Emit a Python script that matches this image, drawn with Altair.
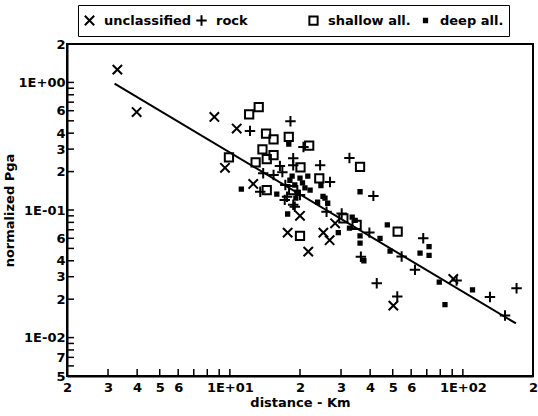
import altair as alt
import pandas as pd

# ---------------- data ----------------
unclassified_x = [3.29, 3.98, 8.58, 10.7, 9.53, 12.6, 20.0, 17.7, 28.3, 25.2, 26.8, 21.7, 50.3, 91.0]
unclassified_y = [1.26, 0.586, 0.536, 0.435, 0.214, 0.16, 0.090, 0.0665, 0.0787, 0.0665, 0.058, 0.0472, 0.0178, 0.0288]

rock_x = [12.2, 18.2, 13.5, 13.9, 16.4, 15.4, 18.7, 17.6, 19.0, 20.7, 18.7, 24.4, 32.6, 26.9, 41.3,
          17.2, 18.7, 26.0, 30.2, 67.6, 39.7, 54.6, 36.5, 62.3, 42.7, 52.3, 94.0, 130.7, 151.7, 170.0,
          16.8, 17.3, 20.0]
rock_y = [0.417, 0.496, 0.139, 0.194, 0.221, 0.188, 0.224, 0.127, 0.106, 0.312, 0.254, 0.224, 0.256, 0.166, 0.129,
          0.12, 0.11, 0.097, 0.094, 0.060, 0.0665, 0.0432, 0.043, 0.034, 0.0267, 0.021, 0.028, 0.0208, 0.0149, 0.0244,
          0.198, 0.157, 0.131]

shallow_x = [12.1, 13.3, 9.91, 14.3, 15.4, 13.8, 15.4, 14.4, 12.9, 17.9, 14.4, 20.0, 21.9, 20.1, 36.2,
             24.2, 30.7, 35.0, 52.5, 18.7]
shallow_y = [0.562, 0.641, 0.258, 0.397, 0.357, 0.298, 0.269, 0.25, 0.236, 0.374, 0.143, 0.0626, 0.32, 0.216, 0.218,
             0.177, 0.086, 0.0764, 0.0677, 0.143]

deep_x = [17.9, 11.2, 15.9, 17.7, 24.6, 36.2, 33.5, 34.5, 32.6, 29.2, 47.4, 36.2, 36.2, 44.1, 48.7,
          37.6, 71.6, 65.5, 71.6, 79.2, 83.8, 110.0, 18.1, 19.0, 20.0, 21.0, 19.4, 25.6, 23.8,
          18.5, 20.5, 21.6, 19.2, 25.1, 26.3, 22.1]
deep_y = [0.328, 0.146, 0.133, 0.093, 0.155, 0.139, 0.088, 0.083, 0.072, 0.0665, 0.0764, 0.0626, 0.055, 0.060, 0.0476,
          0.040, 0.0517, 0.0459, 0.0441, 0.0272, 0.0181, 0.0237, 0.171, 0.157, 0.178, 0.149, 0.138, 0.124, 0.115,
          0.184, 0.163, 0.184, 0.124, 0.128, 0.113, 0.143]

fit_x = [3.2, 169.0]
fit_y = [0.98, 0.0129]

categories = ["unclassified", "rock", "shallow all.", "deep all."]

x_label_values = [2, 3, 4, 5, 6, 10, 20, 30, 40, 50, 60, 100, 200]
y_label_values = [2, 1, 0.6, 0.4, 0.3, 0.2, 0.1, 0.06, 0.04, 0.03, 0.02, 0.01, 0.007, 0.005]
x_tick_values = [2, 3, 4, 5, 6, 7, 8, 9, 10, 20, 30, 40, 50, 60, 70, 80, 90, 100, 200]
y_tick_values = [0.005, 0.006, 0.007, 0.008, 0.009, 0.01, 0.02, 0.03, 0.04, 0.05, 0.06, 0.07, 0.08, 0.09,
                 0.1, 0.2, 0.3, 0.4, 0.5, 0.6, 0.7, 0.8, 0.9, 1, 2]

# ---------------- tables ----------------
rows = []
for name, xs, ys in [("unclassified", unclassified_x, unclassified_y), ("rock", rock_x, rock_y),
                     ("shallow all.", shallow_x, shallow_y), ("deep all.", deep_x, deep_y)]:
    for a, b in zip(xs, ys):
        rows.append({"distance": a, "pga": b, "type": name})
pts = pd.DataFrame(rows)
fit = pd.DataFrame({"distance": fit_x, "pga": fit_y})
xt = pd.DataFrame({"t": x_tick_values})
yt = pd.DataFrame({"t": y_tick_values})

FONT = "DejaVu Sans"
W, H = 466, 332
XMIN, XMAX, YMIN, YMAX = 2, 200, 0.005, 2

xscale = alt.Scale(type="log", domain=[XMIN, XMAX], nice=False)
yscale = alt.Scale(type="log", domain=[YMIN, YMAX], nice=False)

lead = "format(datum.value / pow(10, floor(log(datum.value) / LN10 + 1e-9)), 'd')"
x_expr = ("abs(datum.value - 10) < 1e-6 ? '1E+01' : abs(datum.value - 100) < 1e-6 ? '1E+02' : " + lead)
y_expr = ("abs(datum.value - 1) < 1e-9 ? '1E+00' : abs(datum.value - 0.1) < 1e-9 ? '1E-01' : "
          "abs(datum.value - 0.01) < 1e-9 ? '1E-02' : " + lead)

common_axis = dict(tickSize=0, labelOverlap=False, labelFlush=False, grid=False,
                   domainColor="black", domainWidth=2,
                   labelFont=FONT, labelFontWeight="bold", labelFontSize=13, labelColor="black",
                   titleFont=FONT, titleFontWeight="bold", titleFontSize=13, titleColor="black")
xaxis = alt.Axis(values=x_label_values, labelExpr=x_expr, labelPadding=5,
                 title="distance - Km", titlePadding=2, **common_axis)
yaxis = alt.Axis(values=y_label_values, labelExpr=y_expr, labelPadding=2,
                 title="normalized Pga", titlePadding=2, **common_axis)

# symbol outlines (unit box -1..1, scaled by the size); the small square is closed by a middle stroke
shape_scale = alt.Scale(domain=categories,
                        range=["M-0.85,-0.85L0.85,0.85M-0.85,0.85L0.85,-0.85",
                               "M-0.95,0L0.95,0M0,-0.95L0,0.95",
                               "M-0.75,-0.75H0.75V0.75H-0.75Z",
                               "M-0.3,-0.3H0.3V0.3H-0.3ZM-0.3,0H0.3"])

legend = alt.Legend(title=None, orient="none", legendX=11, legendY=-39, direction="horizontal",
                    columns=4, gridAlign="all", strokeColor="black", padding=5, columnPadding=3,
                    clipHeight=21,
                    labelFont=FONT, labelFontWeight="bold", labelFontSize=13, labelColor="black",
                    symbolStrokeColor="black", symbolStrokeWidth=2, symbolSize=121,
                    symbolFillColor="transparent", symbolOffset=0, labelOffset=8)

points = alt.Chart(pts).mark_point(filled=False, stroke="black", strokeWidth=2, opacity=1, size=121).encode(
    x=alt.X("distance:Q", scale=xscale, axis=xaxis),
    y=alt.Y("pga:Q", scale=yscale, axis=yaxis),
    shape=alt.Shape("type:N", scale=shape_scale, legend=legend),
)

line = alt.Chart(fit).mark_line(color="black", strokeWidth=2).encode(
    x=alt.X("distance:Q", scale=xscale),
    y=alt.Y("pga:Q", scale=yscale),
)

xticks = alt.Chart(xt).mark_rule(color="black", strokeWidth=1.5, y2Offset=-7).encode(
    x=alt.X("t:Q", scale=xscale),
    y=alt.datum(YMIN),
    y2=alt.datum(YMIN),
)
yticks = alt.Chart(yt).mark_rule(color="black", strokeWidth=1.5, x2Offset=7).encode(
    y=alt.Y("t:Q", scale=yscale),
    x=alt.datum(XMIN),
    x2=alt.datum(XMIN),
)

chart = alt.layer(xticks, yticks, line, points).properties(
    width=W, height=H,
    background="white",
    autosize=alt.AutoSizeParams(type="none"),
    padding={"left": 67, "top": 44, "right": 5, "bottom": 40},
).configure_view(stroke="black", strokeWidth=2)

chart.save("out.html", embed_options={"renderer": "svg", "actions": False})
